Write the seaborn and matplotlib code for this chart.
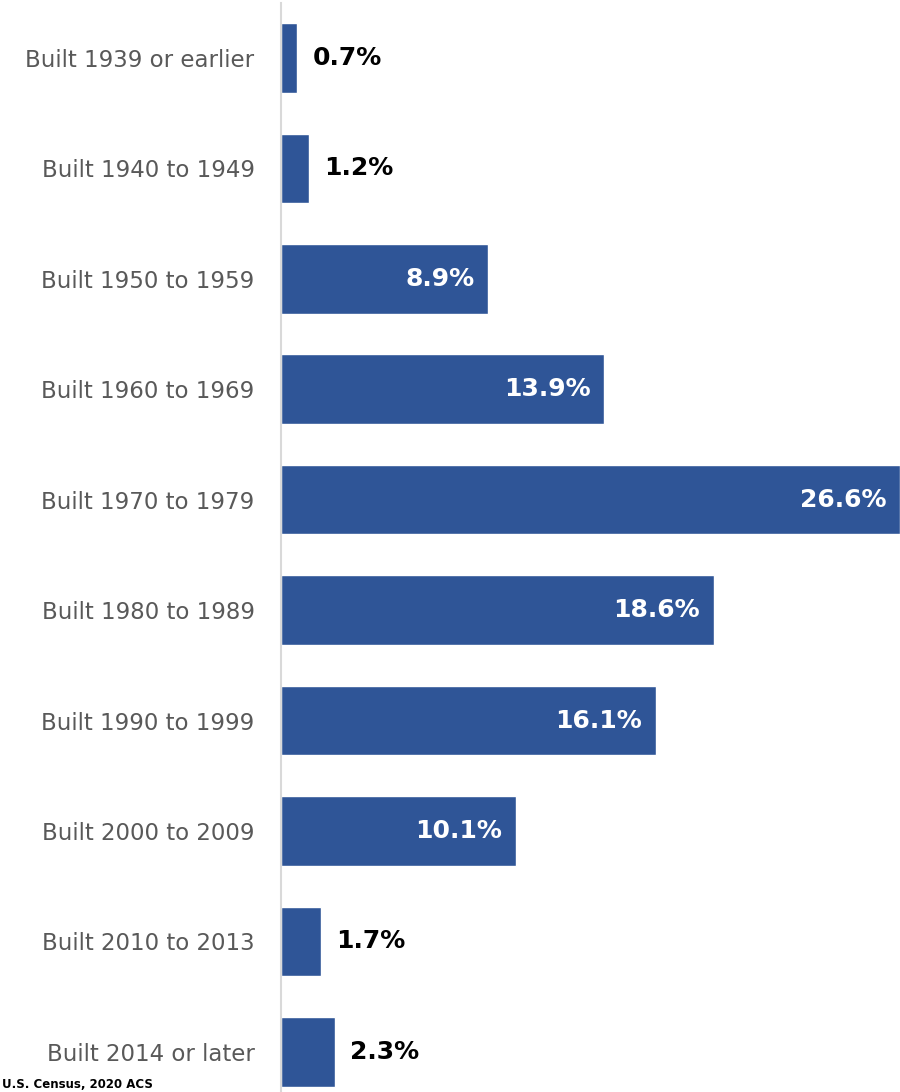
import matplotlib
matplotlib.use("Agg")
import matplotlib.pyplot as plt
import seaborn as sns
import pandas as pd

categories = ["Built 1939 or earlier", "Built 1940 to 1949", "Built 1950 to 1959",
              "Built 1960 to 1969", "Built 1970 to 1979", "Built 1980 to 1989",
              "Built 1990 to 1999", "Built 2000 to 2009", "Built 2010 to 2013",
              "Built 2014 or later"]
values = [0.7, 1.2, 8.9, 13.9, 26.6, 18.6, 16.1, 10.1, 1.7, 2.3]
source_text = "U.S. Census, 2020 ACS"

sns.set_theme(style="white")
plt.rcParams['font.family'] = ['DejaVu Sans']

df = pd.DataFrame({"cat": categories, "val": values})

fig = plt.figure(figsize=(9, 10.92), dpi=100)
ax = fig.add_axes([281/900, 1 - 1107/1092, 1 - 281/900, 1104.2/1092])
sns.barplot(data=df, x="val", y="cat", orient="h", color="#2F5597",
            width=0.63, ax=ax, saturation=1)
ax.set_xlim(0, 26.6)
ax.set_ylim(9.5, -0.5)
ax.set_xlabel("")
ax.set_ylabel("")
ax.set_xticks([])
for s in ["top", "right", "bottom"]:
    ax.spines[s].set_visible(False)
ax.spines["left"].set_color("#D9D9D9")
ax.spines["left"].set_linewidth(1.5)
ax.tick_params(axis="y", length=0, pad=19, labelsize=16.5, labelcolor="#595959")

for i, v in enumerate(values):
    if v > 5:
        ax.annotate(f"{v}%", (v, i), xytext=(-10, 0), textcoords="offset points",
                    ha="right", va="center", color="white", fontsize=18, fontweight="bold")
    else:
        ax.annotate(f"{v}%", (v, i), xytext=(11, 0), textcoords="offset points",
                    ha="left", va="center", color="black", fontsize=18, fontweight="bold")

fig.text(0.002, 0.001, source_text, ha="left", va="bottom", fontsize=8.5,
         fontweight="bold", color="black")

fig.savefig("out.png", dpi=100)
